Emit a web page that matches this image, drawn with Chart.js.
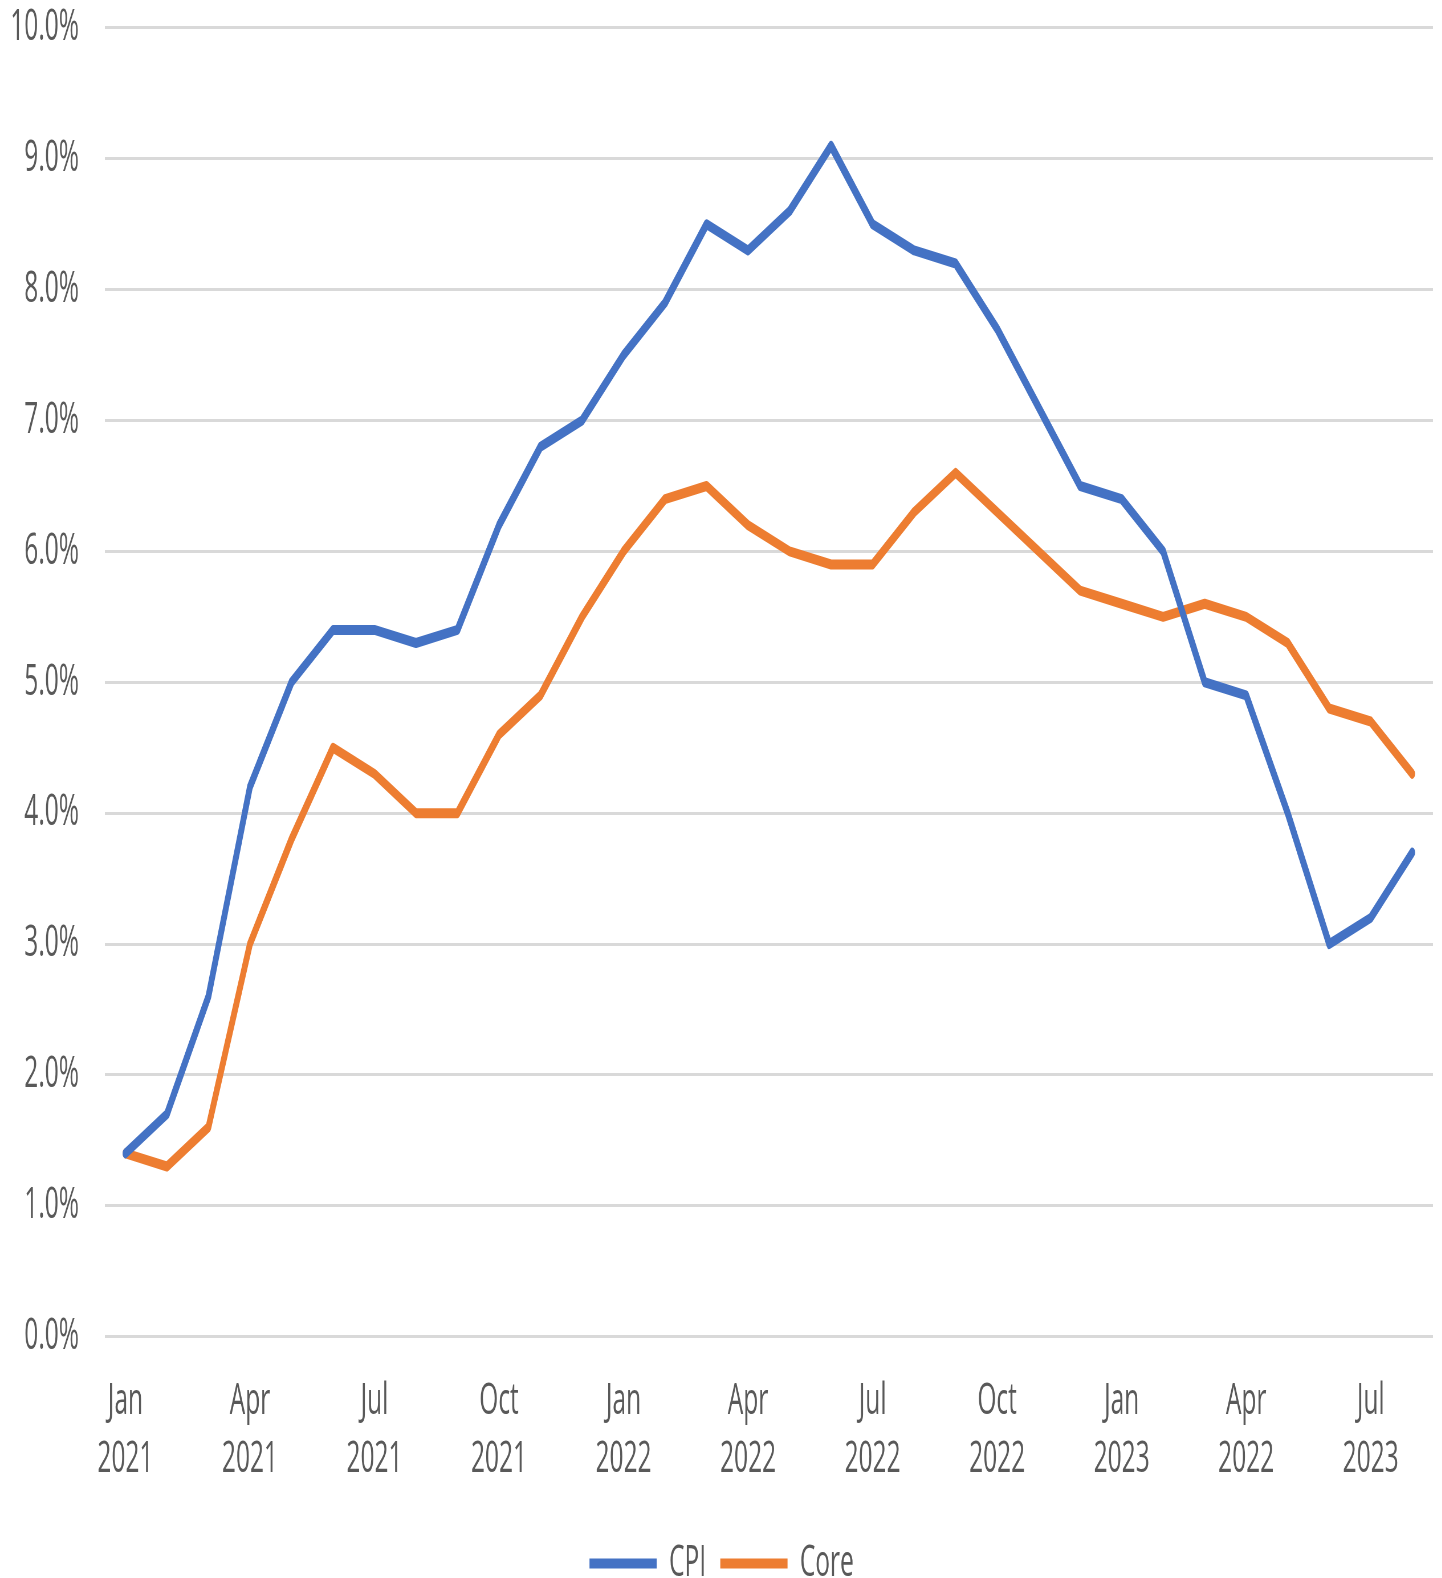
<!DOCTYPE html>
<html>
<head>
<meta charset="utf-8">
<script src="https://cdn.jsdelivr.net/npm/chart.js@4"></script>
<style>
  html, body { margin: 0; padding: 0; background: #fff; overflow: hidden; }
  #wrap { width: 2530px; height: 1595px; transform: scaleX(0.57); transform-origin: 0 0; }
</style>
</head>
<body>
<div id="wrap"><canvas id="myChart" width="2530" height="1595"></canvas></div>
<script>
const months = ['Jan 2021','Feb 2021','Mar 2021','Apr 2021','May 2021','Jun 2021','Jul 2021','Aug 2021','Sep 2021','Oct 2021','Nov 2021','Dec 2021',
    'Jan 2022','Feb 2022','Mar 2022','Apr 2022','May 2022','Jun 2022','Jul 2022','Aug 2022','Sep 2022','Oct 2022','Nov 2022','Dec 2022',
    'Jan 2023','Feb 2023','Mar 2023','Apr 2023','May 2023','Jun 2023','Jul 2023','Aug 2023']
// every third month gets a label (the Apr 2023 one reads "2022" in the original)
const tickLabels = [['Jan','2021'],['Apr','2021'],['Jul','2021'],['Oct','2021'],['Jan','2022'],['Apr','2022'],
    ['Jul','2022'],['Oct','2022'],['Jan','2023'],['Apr','2022'],['Jul','2023']]
const cpi = [1.4, 1.7, 2.6, 4.2, 5.0, 5.4, 5.4, 5.3, 5.4, 6.2, 6.8, 7.0,
    7.5, 7.9, 8.5, 8.3, 8.6, 9.1, 8.5, 8.3, 8.2, 7.7, 7.1, 6.5,
    6.4, 6.0, 5.0, 4.9, 4.0, 3.0, 3.2, 3.7]
const core = [1.4, 1.3, 1.6, 3.0, 3.8, 4.5, 4.3, 4.0, 4.0, 4.6, 4.9, 5.5,
    6.0, 6.4, 6.5, 6.2, 6.0, 5.9, 5.9, 6.3, 6.6, 6.3, 6.0, 5.7,
    5.6, 5.5, 5.6, 5.5, 5.3, 4.8, 4.7, 4.3]

const textColor = '#595959'
const font = {family: '"Open Sans", sans-serif', size: 43}

const ctx = document.getElementById('myChart').getContext('2d')
const myChart = new Chart(ctx, {
    type: 'line',
    data: {
        labels: months,
        datasets: [
            {
                label: 'CPI',
                data: cpi,
                borderColor: '#4472C4',
                backgroundColor: '#4472C4',
                borderWidth: 10,
                borderCapStyle: 'round',
                borderJoinStyle: 'round',
                pointRadius: 0,
                tension: 0
            },
            {
                label: 'Core',
                data: core,
                borderColor: '#ED7D31',
                backgroundColor: '#ED7D31',
                borderWidth: 10,
                borderCapStyle: 'round',
                borderJoinStyle: 'round',
                pointRadius: 0,
                tension: 0
            }
        ]
    },
    options: {
        responsive: false,
        maintainAspectRatio: false,
        animation: false,
        layout: {padding: {left: 18, right: 16, top: 0, bottom: 0}},
        plugins: {
            tooltip: {enabled: false},
            legend: {
                position: 'bottom',
                labels: {
                    color: textColor,
                    font: font,
                    usePointStyle: true,
                    pointStyle: 'line',
                    pointStyleWidth: 118,
                    boxHeight: 10,
                    padding: 25
                }
            }
        },
        scales: {
            x: {
                offset: true,
                grid: {display: false},
                border: {display: false},
                ticks: {
                    color: textColor,
                    font: {family: font.family, size: 43, lineHeight: 1.33},
                    autoSkip: false,
                    maxRotation: 0,
                    padding: 29,
                    callback: function(val, index) {
                        return index % 3 === 0 ? tickLabels[index / 3] : ''
                    }
                }
            },
            y: {
                min: 0,
                max: 10,
                border: {display: false},
                grid: {color: '#D9D9D9', lineWidth: 3, drawTicks: true, tickLength: 45, tickColor: 'rgba(0,0,0,0)'},
                ticks: {
                    stepSize: 1,
                    color: textColor,
                    font: {family: font.family, size: 43, lineHeight: 1.3},
                    padding: 0,
                    callback: v => v.toFixed(1) + '%'
                }
            }
        }
    }
})
</script>
</body>
</html>
